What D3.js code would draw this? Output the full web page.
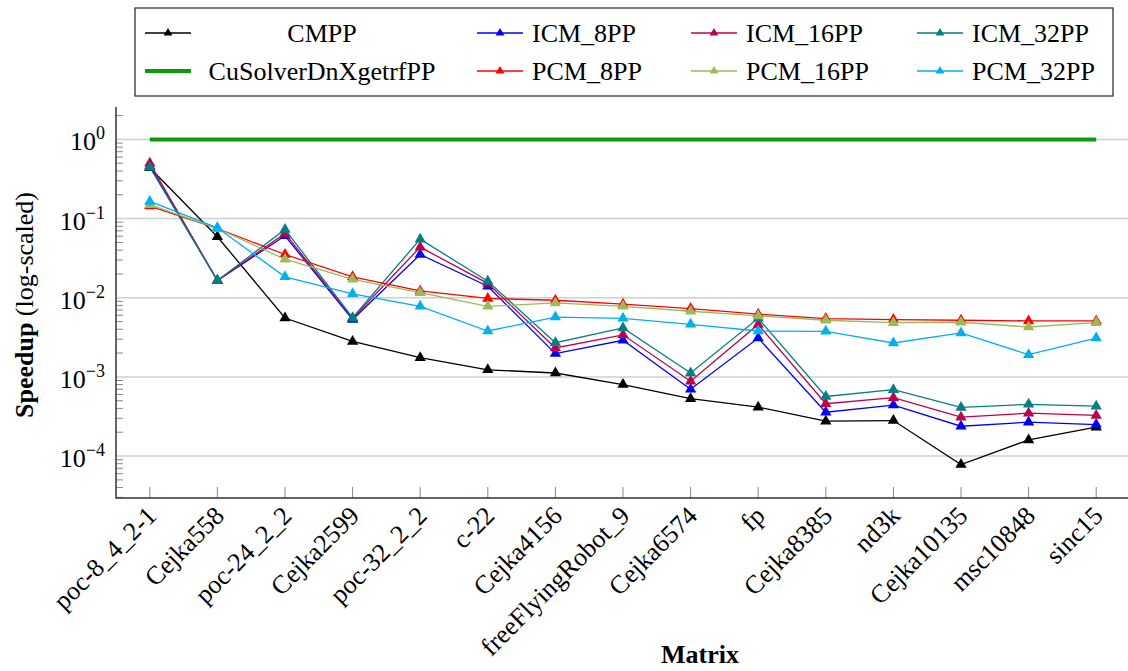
<!DOCTYPE html>
<html>
<head>
<meta charset="utf-8">
<script src="https://cdn.jsdelivr.net/npm/d3@7"></script>
<style>
  body { margin: 0; background: #fff; }
  text { font-family: "Liberation Serif", "Times New Roman", serif; }
</style>
</head>
<body>
<svg id="chart"></svg>
<script>
// matrices on the x axis
const matrices = ["poc-8_4_2-1", "Cejka558", "poc-24_2_2", "Cejka2599", "poc-32_2_2", "c-22",
  "Cejka4156", "freeFlyingRobot_9", "Cejka6574", "fp", "Cejka8385", "nd3k", "Cejka10135",
  "msc10848", "sinc15"];

// speedup values
const cmpp    = [0.44, 0.059, 0.00555, 0.00281, 0.00175, 0.00123, 0.00112, 0.0008, 0.00053, 0.000415, 0.000276, 0.000281, 0.000078, 0.00016, 0.000232];
const cusolver = [1, 1, 1, 1, 1, 1, 1, 1, 1, 1, 1, 1, 1, 1, 1];
const icm8    = [0.46, 0.0165, 0.0606, 0.0053, 0.0352, 0.014, 0.00197, 0.0029, 0.0007, 0.0031, 0.000358, 0.00044, 0.000238, 0.000268, 0.00025];
const icm16   = [0.50, 0.0165, 0.065, 0.0055, 0.0436, 0.0152, 0.00232, 0.0034, 0.00088, 0.0046, 0.000458, 0.000546, 0.00031, 0.000348, 0.000326];
const icm32   = [0.445, 0.0165, 0.073, 0.0056, 0.055, 0.0162, 0.0027, 0.00415, 0.00112, 0.0055, 0.000566, 0.00069, 0.000411, 0.00045, 0.000427];
const pcm8    = [0.144, 0.075, 0.0352, 0.0184, 0.0122, 0.0098, 0.0093, 0.0083, 0.0073, 0.0062, 0.00545, 0.0053, 0.0052, 0.0051, 0.0051];
const pcm16   = [0.15, 0.075, 0.0307, 0.0171, 0.0116, 0.0078, 0.0086, 0.0078, 0.00675, 0.0059, 0.0052, 0.00485, 0.0049, 0.00427, 0.00485];
const pcm32   = [0.165, 0.0765, 0.0184, 0.0112, 0.0078, 0.0038, 0.0057, 0.0055, 0.00462, 0.0038, 0.00377, 0.00268, 0.00359, 0.00191, 0.0031];

const seriesNames = ["CMPP", "CuSolverDnXgetrfPP", "ICM_8PP", "ICM_16PP", "ICM_32PP", "PCM_8PP", "PCM_16PP", "PCM_32PP"];
const seriesValues = [cmpp, cusolver, icm8, icm16, icm32, pcm8, pcm16, pcm32];
const yTicks = [1e-4, 1e-3, 1e-2, 1e-1, 1];

const colors = {
  "CMPP": "#000000", "CuSolverDnXgetrfPP": "#0a9a0a",
  "ICM_8PP": "#0000ff", "ICM_16PP": "#c0004a", "ICM_32PP": "#008080",
  "PCM_8PP": "#ff0000", "PCM_16PP": "#9bbb59", "PCM_32PP": "#00b0f0"
};

const width = 1128, height = 671;
const plot = { left: 116, right: 1130, top: 107, bottom: 498 };

const svg = d3.select('#chart').attr('width', width).attr('height', height);

const x = d3.scalePoint().domain(matrices).range([plot.left, plot.right]).padding(0.5);
const y = d3.scaleLog().domain([Math.pow(10, -4.53), Math.pow(10, 0.41)]).range([plot.bottom, plot.top]);

// grid
svg.append('g').selectAll('line')
  .data(yTicks)
  .enter().append('line')
  .attr('x1', plot.left).attr('x2', plot.right)
  .attr('y1', d => y(d)).attr('y2', d => y(d))
  .attr('stroke', '#d0d0d0').attr('stroke-width', 1.5);

// minor ticks on the left axis
const minors = [];
for (let e = -5; e <= 0; e++) for (let m = 2; m <= 9; m++) {
  const v = m * Math.pow(10, e);
  if (v >= y.domain()[0] && v <= y.domain()[1]) minors.push(v);
}
svg.append('g').selectAll('line')
  .data(minors)
  .enter().append('line')
  .attr('x1', plot.left).attr('x2', plot.left + 7)
  .attr('y1', d => y(d)).attr('y2', d => y(d))
  .attr('stroke', '#888').attr('stroke-width', 1);

// x ticks (inside)
svg.append('g').selectAll('line')
  .data(matrices)
  .enter().append('line')
  .attr('x1', d => x(d)).attr('x2', d => x(d))
  .attr('y1', plot.bottom).attr('y2', plot.bottom - 11)
  .attr('stroke', '#888').attr('stroke-width', 1);

// axis lines
svg.append('path')
  .attr('d', `M${plot.left},${plot.top}V${plot.bottom}H${plot.right}`)
  .attr('fill', 'none').attr('stroke', '#333').attr('stroke-width', 1.5);

// y tick labels 10^k
const yLab = svg.append('g').selectAll('text')
  .data(yTicks)
  .enter().append('text')
  .attr('x', 105).attr('y', d => y(d) + 11)
  .attr('text-anchor', 'end')
  .style('font-size', '26px');
yLab.append('tspan').text('10');
yLab.append('tspan')
  .attr('dy', -11)
  .style('font-size', '18px')
  .text(d => { const e = Math.round(Math.log10(d)); return e < 0 ? '\u2212' + (-e) : String(e); });

// x tick labels
svg.append('g').selectAll('text')
  .data(matrices)
  .enter().append('text')
  .attr('transform', d => `translate(${x(d) + 4},${plot.bottom + 15}) rotate(-45)`)
  .attr('text-anchor', 'end')
  .attr('dominant-baseline', 'middle')
  .style('font-size', '26px')
  .text(d => d);

// axis titles
svg.append('text')
  .attr('x', 700).attr('y', 663)
  .attr('text-anchor', 'middle')
  .style('font-size', '26px').style('font-weight', 'bold')
  .text('Matrix');

const yt = svg.append('text')
  .attr('transform', `translate(33,305) rotate(-90)`)
  .attr('text-anchor', 'middle')
  .style('font-size', '26px');
yt.append('tspan').style('font-weight', 'bold').text('Speedup');
yt.append('tspan').text(' (log-scaled)');

// lines + markers
const line = d3.line().x((d, i) => x(matrices[i])).y(d => y(d));
const tri = d3.symbol().type(d3.symbolTriangle);

seriesNames.forEach((name, k) => {
  const vals = seriesValues[k];
  const g = svg.append('g');
  if (name === 'CuSolverDnXgetrfPP') {
    g.append('path').attr('d', line(vals))
      .attr('fill', 'none').attr('stroke', colors[name]).attr('stroke-width', 4);
    return;
  }
  g.append('path').attr('d', line(vals))
    .attr('fill', 'none').attr('stroke', colors[name]).attr('stroke-width', 1.3);
  g.selectAll('path.m')
    .data(vals)
    .enter().append('path')
    .attr('class', 'm')
    .attr('d', tri.size(55)())
    .attr('transform', (d, i) => `translate(${x(matrices[i])},${y(d)})`)
    .attr('fill', colors[name]);
});

// legend
const legendRows = [
  ["CMPP", "ICM_8PP", "ICM_16PP", "ICM_32PP"],
  ["CuSolverDnXgetrfPP", "PCM_8PP", "PCM_16PP", "PCM_32PP"]
];
const colLineX = [145, 477, 691, 917];
const rowY = [33, 71];

const lg = svg.append('g');
lg.append('rect')
  .attr('x', 135).attr('y', 8).attr('width', 978).attr('height', 88)
  .attr('fill', '#fff').attr('stroke', '#333').attr('stroke-width', 1.3);

legendRows.forEach((row, r) => {
  row.forEach((name, c) => {
    const lx = colLineX[c], ly = rowY[r];
    const thick = name === 'CuSolverDnXgetrfPP';
    lg.append('line')
      .attr('x1', lx).attr('x2', lx + 46).attr('y1', ly).attr('y2', ly)
      .attr('stroke', colors[name]).attr('stroke-width', thick ? 4 : 1.3);
    if (!thick) {
      lg.append('path')
        .attr('d', tri.size(34)())
        .attr('transform', `translate(${lx + 23},${ly})`)
        .attr('fill', colors[name]);
    }
    const t = lg.append('text')
      .attr('y', ly + 9)
      .style('font-size', '26px')
      .text(name);
    if (c === 0) t.attr('x', 322).attr('text-anchor', 'middle');
    else t.attr('x', lx + 55);
  });
});
</script>
</body>
</html>
